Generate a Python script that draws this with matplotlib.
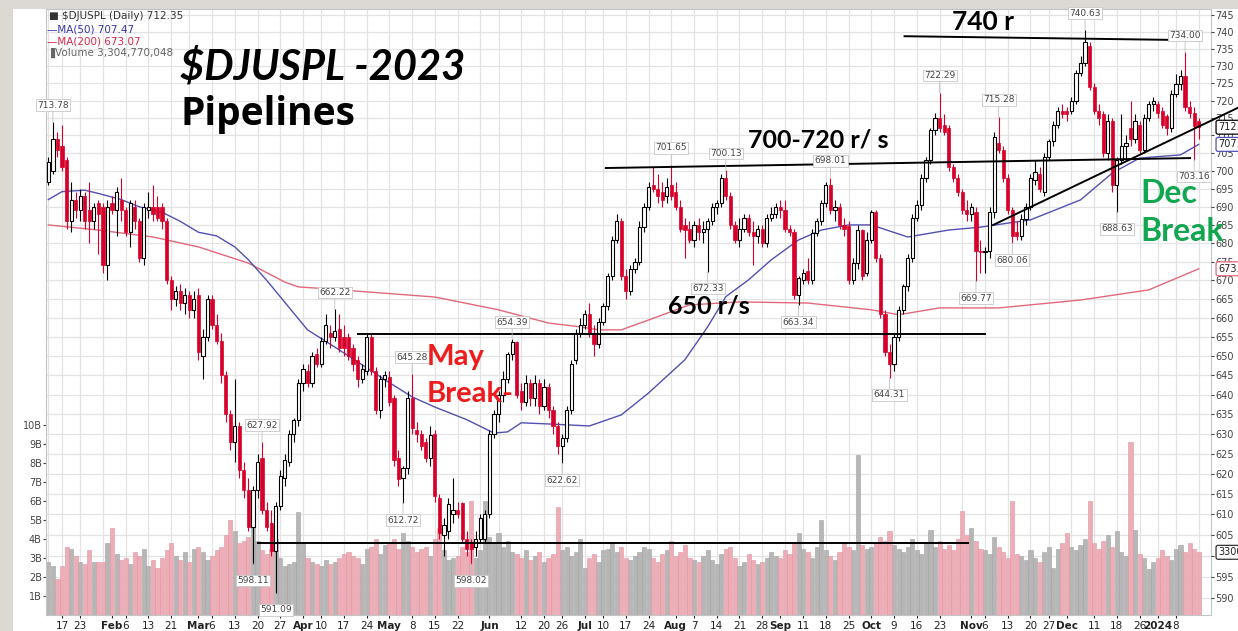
import numpy as np
import pandas as pd
import matplotlib
matplotlib.use('Agg')
import matplotlib.pyplot as plt
from matplotlib.patches import Rectangle
from matplotlib.ticker import FixedLocator, NullLocator, FuncFormatter
from matplotlib.transforms import blended_transform_factory

# ---------------- data ----------------
holidays = ['2023-01-16', '2023-02-20', '2023-04-07', '2023-05-29', '2023-06-19',
            '2023-07-04', '2023-09-04', '2023-11-23', '2023-12-25', '2024-01-01',
            '2024-01-15']
days = pd.bdate_range('2023-01-11', '2024-01-16', freq='C', holidays=holidays)

opens = [
    # Jan
    697, 700, 709, 707, 703, 686, 692, 689, 693, 689, 686, 691, 690, 674,
    # Feb
    691, 689, 692, 689, 683, 690, 686, 676, 689, 690, 690, 690, 686, 670, 665, 667, 664, 666, 662,
    # Mar
    666, 650, 655, 665, 658, 654, 645, 635, 628, 632, 621, 616, 607, 616, 624, 611, 608, 601, 612,
    619, 623, 630, 633.6,
    # Apr
    643, 646, 643, 650.5, 648, 654, 656, 655, 657, 655, 655, 652, 649, 644, 646, 655, 646, 636, 644,
    # May
    644.5, 639, 624, 619, 621.5, 639, 631, 630, 628, 624, 630, 614, 605, 606, 610, 611, 612.7, 604,
    603, 602, 604, 604,
    # Jun
    610, 630, 635, 640, 644, 650.5, 653.7, 641, 638, 643, 639, 643, 637, 642, 636, 632, 627, 629,
    636, 649, 656,
    # Jul
    658, 661, 656, 653, 659, 663, 671, 681, 686, 671, 667, 673, 675, 684.5, 690, 696, 695, 694, 693, 696,
    # Aug
    694, 690, 685, 684, 681, 685, 683, 684, 686, 690, 691, 698, 693, 685, 681, 684, 687, 683, 682,
    684, 680, 687, 688,
    # Sep
    690, 689, 684, 683, 666, 670, 672.5, 670, 682.7, 686, 691, 696, 689, 690, 685, 684.6, 670, 674.6,
    683.6, 672,
    # Oct
    681, 688.5, 676, 661, 651, 648, 655, 662, 668.5, 676, 687, 690.6, 698, 703, 711.6, 715, 713, 712,
    701, 698, 694, 689,
    # Nov
    688, 688.5, 678, 677.5, 678, 688.5, 708, 706, 698, 689, 683, 682, 686.6, 690, 697.5, 699, 694,
    704, 708.5, 713, 717,
    # Dec
    717, 717, 720, 728, 731, 736, 724, 717, 716, 705, 714, 696, 703, 707, 712, 709, 713, 706, 715, 719,
    # Jan 2024
    719, 717, 715.6, 712, 722, 724.7, 727, 718, 716.5, 714,
]
highs = [
    704, 713.78, 711, 713, 704, 697, 694, 695, 694, 697, 691, 692, 691, 692,
    693, 695.6, 698, 690, 692, 692, 687, 691, 694, 696, 693, 691, 687, 671, 668.5, 669, 668, 667, 667,
    668, 657, 666, 666, 661, 656, 646, 636, 644, 633, 623, 619, 617, 625, 627.92, 613, 611, 613, 621,
    625, 631, 634, 644,
    648, 648, 651, 652, 655, 661, 658, 662.22, 661, 658, 656, 653, 650, 648, 656, 656, 647, 645, 646,
    646, 640, 626, 622, 641, 645.28, 633, 631, 629, 632, 631, 615, 609, 614, 619, 613, 613, 606, 604,
    606, 610, 611,
    631, 636, 641, 646, 651, 654.39, 654, 643, 645, 644, 645, 644, 644, 643, 637, 633, 630, 637, 649,
    657, 660,
    662, 664, 658, 660, 664, 672, 682, 688, 687, 673, 674, 676, 686, 691, 697, 701, 699, 697, 698, 701.65,
    697, 692, 687, 686, 686, 687, 686, 687, 691, 692, 699, 700.13, 694, 686, 687, 688, 688, 686, 685,
    685, 688, 690, 691,
    692, 692, 685, 684, 671, 673, 676, 684, 687, 692, 697, 698.01, 692, 691, 687, 686, 676, 685, 684, 683,
    689, 689, 677, 662, 653, 656, 663, 669, 677, 688, 692, 699, 704, 712, 716.5, 722.29, 716, 713, 702,
    699, 695, 692,
    691, 690, 681, 679, 690, 711, 715.28, 707, 699, 690, 686, 688, 691, 699, 703, 701, 705, 709, 714,
    718, 719,
    718, 721, 729, 733, 740.63, 737, 725, 719, 717, 716, 715, 704, 716, 710, 720, 716, 714, 716, 720, 721,
    720, 718, 716, 723, 727.6, 729, 734.0, 720, 718, 715,
]
lows = [
    696, 699, 704, 700, 684, 683, 687, 686, 684, 680, 684, 677, 672, 670,
    688, 682, 686, 682, 679, 684, 675, 674, 687, 686, 686, 684, 669, 662, 663, 662, 661, 660, 660,
    649, 644, 654, 657, 653, 643, 633, 626, 623, 619, 614, 606, 598.11, 614, 610, 606, 600, 591.09, 611,
    617, 622, 628, 632,
    641, 642, 642, 647, 647, 653, 652, 654, 651, 650, 649, 646, 642, 643, 645, 645, 635, 634, 642,
    637, 622, 617, 612.72, 620, 630, 628, 626, 623, 622, 613, 604, 600, 604, 608, 609, 603, 600, 598.02,
    600, 603, 603,
    609, 629, 633, 638, 643, 649, 639, 636, 637, 637, 637, 635, 636, 634, 630, 625, 622.62, 628, 635,
    648, 655,
    657, 655, 650, 652, 658, 662, 670, 680, 670, 665, 666, 672, 674, 683, 689, 694, 691, 690, 691, 692,
    689, 683, 676, 680, 679, 681, 680, 672.33, 685, 688, 690, 692, 684, 680, 679, 683, 682, 674, 680,
    679, 679, 686, 687,
    687, 683, 682, 665, 663.34, 669, 669, 669, 682, 685, 690, 688, 686, 684, 682, 669, 669, 673, 670, 671,
    680, 675, 660, 650, 644.31, 646, 654, 661, 667, 675, 686, 689, 697, 702, 710, 711, 710, 700, 697,
    693, 688, 686,
    686, 669.77, 672, 672, 676, 687, 705, 697, 688, 680.06, 681, 681, 685, 689, 696, 694, 693, 703, 707,
    712, 715,
    714, 716, 719, 727, 730, 723, 716, 713, 704, 703, 694, 688.63, 702, 703, 707, 708, 705, 705, 714, 717,
    715, 712, 710, 711, 721, 723, 717, 715, 703.16, 709,
]
closes = [
    702.5, 709, 706, 701, 686, 692, 689, 693, 686, 686, 690, 688, 674, 690,
    689, 694, 689, 683, 691, 686, 676, 690, 690, 688, 687, 686, 670, 665, 667, 664, 666, 662, 665,
    651, 655, 665, 658, 654, 645, 635, 628, 632, 621, 616, 607, 616, 623, 611, 607, 601, 612, 619.5,
    623.5, 630, 633.6, 643,
    646.5, 643, 650, 648, 654, 658, 655, 656.6, 652, 652, 650, 648, 644, 646.5, 655, 646, 636, 644, 645,
    638, 623.5, 618.6, 621.5, 639, 631.6, 630, 627, 624, 629.6, 614.4, 605.5, 607.5, 612.5, 611, 610,
    604, 601.5, 601.5, 604, 609, 610,
    630, 635, 640, 644, 650.5, 653.7, 640, 638, 643, 639, 643, 637, 642, 636, 632, 627, 629, 636, 648,
    656, 658,
    661, 656, 653, 659, 663, 671, 681, 686, 671, 667, 673, 675, 684.5, 690, 695.6, 695, 693, 692, 695.5, 693,
    690, 684, 683.6, 681, 685, 683, 684, 686, 690, 691, 698, 693, 685, 681, 684, 687, 683, 682, 684,
    680, 687, 688, 690,
    689, 684, 683, 666, 670.6, 672, 670, 682.7, 686, 691, 696, 689, 690, 685, 684, 670, 674.6, 683.6,
    671, 681,
    688.5, 676, 661, 651, 648, 655, 662, 668.5, 676, 687, 690.6, 698, 703, 711.6, 715, 712, 711, 701,
    698, 694, 689, 688,
    690, 678, 677.5, 678, 688.5, 709.5, 706, 698, 689, 682, 682, 686.6, 690, 698, 699.6, 695, 704,
    708.5, 713, 717, 716,
    716, 720, 728, 731, 737, 724, 717, 715, 705, 714, 696, 703, 707, 708, 709, 714, 706, 715, 719, 720,
    716.5, 713, 712, 722, 724.7, 727, 718, 716.5, 712.6, 712.35,
]
# volume in billions
volumes = [
    2.8, 2.6, 1.9, 2.6, 3.6, 3.5, 3.1, 2.8, 2.7, 3.4, 2.8, 2.8, 2.8, 3.8,
    4.6, 3.2, 2.9, 3.0, 2.7, 3.3, 3.1, 3.5, 2.6, 2.9, 2.5, 3.0, 3.4, 3.8, 3.1, 2.9, 3.3, 2.8, 3.5,
    3.6, 3.3, 2.9, 3.1, 3.4, 3.6, 4.2, 5.0, 4.4, 3.8, 3.9, 4.1, 5.4, 3.9, 3.4, 3.2, 3.5, 4.0, 3.0,
    2.6, 2.7, 2.8, 5.4,
    3.8, 3.0, 2.8, 2.7, 2.6, 2.9, 2.7, 2.8, 3.0, 3.2, 3.3, 3.1, 3.0, 2.7, 3.5, 3.6, 4.0, 3.2, 3.7,
    3.8, 4.0, 3.5, 4.3, 3.9, 3.6, 3.3, 3.5, 3.6, 3.1, 4.0, 4.6, 3.4, 2.9, 3.0, 3.1, 3.6, 3.3, 6.0,
    3.0, 3.4, 6.0,
    4.1, 3.8, 4.3, 3.6, 3.9, 3.3, 3.2, 3.0, 3.4, 2.9, 3.1, 3.3, 2.8, 3.0, 3.2, 5.7, 3.4, 3.6, 3.1,
    3.3, 4.0,
    2.5, 3.0, 3.2, 2.8, 3.4, 3.5, 3.8, 3.3, 3.6, 3.0, 2.9, 3.1, 3.3, 3.6, 3.5, 3.0, 2.8, 3.2, 3.4, 3.9,
    3.1, 3.3, 3.7, 3.0, 2.9, 2.8, 3.1, 3.4, 2.9, 2.7, 3.2, 3.5, 3.6, 3.0, 2.6, 2.8, 3.2, 2.9, 2.7,
    2.8, 3.0, 3.3, 3.1,
    3.0, 3.4, 3.2, 3.8, 4.3, 3.5, 3.3, 3.0, 3.6, 5.0, 3.4, 3.1, 2.9, 3.3, 3.8, 3.6, 3.4, 8.4, 3.7, 3.5,
    3.6, 3.8, 4.1, 3.9, 4.4, 3.7, 3.5, 3.3, 3.6, 4.0, 3.4, 3.2, 3.8, 4.5, 3.6, 3.9, 3.5, 3.7, 3.4,
    4.0, 5.5, 4.2,
    4.6, 3.9, 3.5, 3.4, 3.2, 4.1, 3.6, 3.3, 3.0, 6.0, 3.2, 3.1, 2.9, 3.4, 3.0, 2.8, 3.3, 3.6, 2.5,
    3.5, 3.8,
    4.3, 3.6, 3.4, 3.7, 4.0, 6.0, 3.8, 3.5, 3.9, 4.2, 3.6, 4.4, 3.3, 3.1, 9.1, 4.5, 3.2, 3.0, 2.4, 2.8,
    3.0, 3.4, 3.1, 2.9, 3.5, 3.7, 3.3, 3.8, 3.5, 3.3,
]

# moving averages, read at sample points (bar index, value)
ma50_idx = [0, 3, 8, 11, 16, 20, 25, 29, 33, 37, 41, 44, 48, 57, 63, 70, 74, 80, 85, 92, 98, 101,
            104, 110, 119, 126, 132, 140, 145, 149, 154, 159, 165, 170, 176, 181, 189, 198, 205, 216,
            227, 234, 240, 249, 253]
ma50_val = [692, 694.2, 694.6, 693.7, 692, 690, 688.5, 686, 683, 682, 679, 675.5, 670, 656.8, 652.3,
            646.9, 643.8, 639.4, 636.8, 633.6, 630.2, 630.5, 632.8, 632.5, 632.0, 634.8, 640.4, 649,
            657.6, 665.6, 670.1, 675.5, 680.9, 683.6, 685, 685, 681.7, 683.6, 684.4, 686.4, 691.9,
            699.4, 703.6, 704.5, 707.47]
ma200_idx = [0, 11, 23, 33, 44, 52, 55, 60, 85, 99, 110, 117, 121, 126, 132, 141, 152, 167, 181,
             187, 196, 209, 227, 242, 253]
ma200_val = [685.0, 683.6, 681.7, 679.0, 674.6, 669.5, 668.2, 667.8, 665.5, 662.1, 658.6, 657.6,
             656.8, 656.8, 659.4, 663.4, 664.2, 663.9, 662.1, 660.8, 662.6, 662.6, 664.7, 667.4, 673.07]

# extreme-value tags: (bar index, value, above?)
tag_idx = [1, 63, 47, 45, 50, 80, 78, 93, 102, 113, 137, 149, 145, 172, 165, 185, 196, 209, 204,
           212, 228, 250, 252, 235]
tag_val = [713.78, 662.22, 627.92, 598.11, 591.09, 645.28, 612.72, 598.02, 654.39, 622.62, 701.65,
           700.13, 672.33, 698.01, 663.34, 644.31, 722.29, 715.28, 669.77, 680.06, 740.63, 734.00,
           703.16, 688.63]
tag_up = [1, 1, 1, 0, 0, 1, 0, 0, 1, 0, 1, 1, 0, 1, 0, 0, 1, 1, 0, 0, 1, 1, 0, 0]

tick_dates = ['2023-01-17', '2023-01-23', '2023-02-01', '2023-02-06', '2023-02-13', '2023-02-21',
              '2023-03-01', '2023-03-06', '2023-03-13', '2023-03-20', '2023-03-27', '2023-04-03',
              '2023-04-10', '2023-04-17', '2023-04-24', '2023-05-01', '2023-05-08', '2023-05-15',
              '2023-05-22', '2023-06-01', '2023-06-12', '2023-06-20', '2023-06-26', '2023-07-03',
              '2023-07-10', '2023-07-17', '2023-07-24', '2023-08-01', '2023-08-07', '2023-08-14',
              '2023-08-21', '2023-08-28', '2023-09-01', '2023-09-11', '2023-09-18', '2023-09-25',
              '2023-10-02', '2023-10-09', '2023-10-16', '2023-10-23', '2023-11-01', '2023-11-06',
              '2023-11-13', '2023-11-20', '2023-11-27', '2023-12-01', '2023-12-11', '2023-12-18',
              '2023-12-26', '2024-01-02', '2024-01-08']
tick_text = ['17', '23', 'Feb', '6', '13', '21', 'Mar', '6', '13', '20', '27', 'Apr', '10', '17',
             '24', 'May', '8', '15', '22', 'Jun', '12', '20', '26', 'Jul', '10', '17', '24', 'Aug',
             '7', '14', '21', '28', 'Sep', '11', '18', '25', 'Oct', '9', '16', '23', 'Nov', '6', '13',
             '20', '27', 'Dec', '11', '18', '26', '2024', '8']

# ---------------- figure ----------------
W, H = 1238, 631
n = min(len(days), len(opens), len(highs), len(lows), len(closes), len(volumes))
x = np.arange(n)
o = np.array(opens[:n], float)
h = np.array(highs[:n], float)
l = np.array(lows[:n], float)
c = np.array(closes[:n], float)
v = np.array(volumes[:n], float)
up = c >= o
dn = ~up

RED = '#d7002b'
MA50_C = '#5151b3'
MA200_C = '#e2687a'

fig = plt.figure(figsize=(W / 100, H / 100), dpi=100)
fig.patch.set_facecolor('#dcd9d4')
fig.add_artist(Rectangle((13 / W, 0), 1 - 13 / W, 1 - 9 / H, transform=fig.transFigure,
                         facecolor='white', edgecolor='none', zorder=-5))

PMIN, PMAX = 585.9, 746.9
ax_v = fig.add_axes([46 / W, 16 / H, 1165 / W, 606 / H])
ax_v.set_xlim(-0.52, 255.7)
ax_v.set_ylim(0, 606 / 19.0)

# grid (weekly verticals, 5-point horizontals)
week_pos = [i for i in range(n) if i == 0 or days[i].weekday() < days[i - 1].weekday()]
for wp in week_pos:
    ax_v.axvline(wp, color='#e3e3e3', lw=0.9, zorder=0)
for lev in np.arange(590, 746, 5):
    f = (np.log(lev) - np.log(PMIN)) / (np.log(PMAX) - np.log(PMIN))
    ax_v.plot([0, 1], [f, f], transform=ax_v.transAxes, color='#e3e3e3', lw=0.9, zorder=0)

ax_v.bar(x[up], v[up], width=0.9, color='#b6b6b6', edgecolor='#a2a2a2', linewidth=0.4, zorder=1)
ax_v.bar(x[dn], v[dn], width=0.9, color='#ecadb7', edgecolor='#e095a2', linewidth=0.4, zorder=1)

ax_v.set_yticks(range(1, 11))
ax_v.set_yticklabels([f'{k}B' for k in range(1, 11)])
ax_v.tick_params(axis='y', labelsize=7, colors='#444444', length=2, pad=1)
tick_pos = [days.get_loc(pd.Timestamp(d)) for d in tick_dates]
ax_v.set_xticks(tick_pos)
ax_v.set_xticklabels(tick_text)
ax_v.tick_params(axis='x', labelsize=7.5, colors='#222222', length=2, pad=2)
for lab in ax_v.get_xticklabels():
    if not lab.get_text().isdigit() or lab.get_text() == '2024':
        lab.set_fontweight('bold')
for s in ax_v.spines.values():
    s.set_color('#c4c4c4')
    s.set_linewidth(0.8)

# price panel
ax_p = ax_v.twinx()
ax_p.set_yscale('log')
ax_p.set_ylim(PMIN, PMAX)
ax_p.yaxis.set_major_locator(FixedLocator(np.arange(590, 746, 5)))
ax_p.yaxis.set_minor_locator(NullLocator())
ax_p.yaxis.set_major_formatter(FuncFormatter(lambda val, _: f'{val:.0f}'))
ax_p.tick_params(axis='y', labelsize=7, colors='#444444', length=2, pad=1)
for s in ax_p.spines.values():
    s.set_visible(False)

ax_p.plot(ma200_idx, ma200_val, color=MA200_C, lw=1.0, zorder=2)
ax_p.plot(ma50_idx, ma50_val, color=MA50_C, lw=1.0, zorder=2)

ax_p.vlines(x[up], l[up], h[up], color='black', lw=0.8, zorder=3)
ax_p.vlines(x[dn], l[dn], h[dn], color=RED, lw=0.8, zorder=3)
ax_p.bar(x[up], (c - o)[up], bottom=o[up], width=0.7, facecolor='white', edgecolor='black',
         linewidth=0.8, zorder=4)
ax_p.bar(x[dn], (o - c)[dn], bottom=c[dn], width=0.7, facecolor=RED, edgecolor=RED,
         linewidth=0.5, zorder=4)

for ti, tv, tu in zip(tag_idx, tag_val, tag_up):
    ax_p.annotate(f'{tv:.2f}', (ti, tv), xytext=(0, 9 if tu else -9), textcoords='offset points',
                  ha='center', va='bottom' if tu else 'top', fontsize=6.5, color='#444444',
                  bbox=dict(boxstyle='square,pad=0.15', fc='white', ec='#c8c8c8', lw=0.6),
                  arrowprops=dict(arrowstyle='-', color='#c0c0c0', lw=0.6, shrinkA=0, shrinkB=0),
                  zorder=6)

# hand-drawn support / resistance lines
lk = dict(color='black', lw=1.4, zorder=5)
ax_p.plot([188.3, 253.3], [738.8, 737.6], **lk)
ax_p.plot([122.6, 251.1], [700.8, 703.6], **lk)
ax_p.plot([68.1, 206.0], [655.6, 655.6], **lk)
ax_p.plot([46.1, 202.3], [603.1, 603.1], **lk)
ax_p.plot([207.8, 261.6], [685.0, 717.9], clip_on=False, **lk)

# right-edge value tags (drawn over the tick labels, cut by the image edge like the original)
tp = blended_transform_factory(ax_p.transAxes, ax_p.transData)
tvol = blended_transform_factory(ax_p.transAxes, ax_v.transData)
for val, col in [(closes[-1], 'black'), (ma50_val[-1], MA50_C), (ma200_val[-1], MA200_C)]:
    ax_p.text(1.006, val, f'{val:.2f}', transform=tp, ha='left', va='center', fontsize=7,
              color='#222222', bbox=dict(boxstyle='round,pad=0.2', fc='white', ec=col, lw=0.9),
              zorder=7, clip_on=False)
ax_p.text(1.006, volumes[-1], f'{volumes[-1] * 1000:.0f}', transform=tvol, ha='left', va='center',
          fontsize=7, color='#222222',
          bbox=dict(boxstyle='round,pad=0.2', fc='white', ec='#333333', lw=0.9),
          zorder=7, clip_on=False)

# legend block
fig.text(49 / W, 1 - 16 / H, '\u25a0 \\$DJUSPL (Daily) 712.35', fontsize=7.5, color='#333333', va='center')
fig.text(47 / W, 1 - 29 / H, '\u2014MA(50) 707.47', fontsize=7.5, color='#3535a8', va='center')
fig.text(47 / W, 1 - 42 / H, '\u2014MA(200) 673.07', fontsize=7.5, color='#d8284a', va='center')
fig.text(47 / W, 1 - 53 / H, '\u2590Volume 3,304,770,048', fontsize=7.5, color='#666666', va='center')


# annotations
def ftext(px, py, s, size, color='black', style='normal', family='Lato'):
    fig.text(px / W, 1 - py / H, s, fontsize=size, color=color, fontweight='bold',
             fontstyle=style, family=[family, 'DejaVu Sans'], ha='left', va='baseline', zorder=8)


ftext(180, 79, '\\$DJUSPL -2023', 30, style='italic')
ftext(180, 125, 'Pipelines', 28, family='Open Sans')
ftext(952, 30, '740 r', 19)
ftext(748, 148, '700-720 r/ s', 18)
ftext(668, 313, '650 r/s', 18)
ftext(427, 365, 'May', 21, color='#ee1c1c')
ftext(427, 402, 'Break-', 21, color='#ee1c1c')
ftext(1140, 203, 'Dec', 23, color='#11a650')
ftext(1140, 241, 'Break', 23, color='#11a650')

fig.savefig('out.png', dpi=100)
